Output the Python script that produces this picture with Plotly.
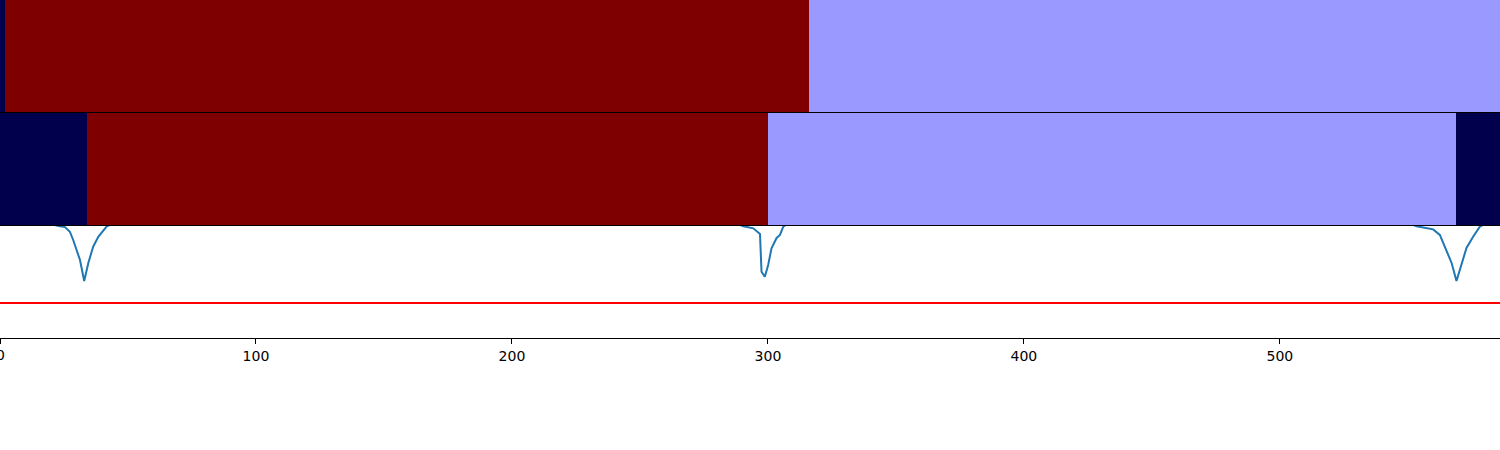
import plotly.graph_objects as go

# Segment boundaries and labels for the two label strips
top_edges = [0, 2, 316, 586]
top_labels = [0, 2, 1]
mid_edges = [0, 34, 300, 569, 586]
mid_labels = [0, 2, 1, 0]

# Signal trace (bottom panel)
sig_x = [0, 21.0, 23.4, 25.4, 27.3, 28.6, 31.25, 32.9, 34.5, 36.4, 38.4, 40.4, 41.7, 43.0,
         289.0, 290.4, 294.3, 296.9, 297.5, 298.8, 300.1, 301.4, 303.4, 304.7, 306.0, 307.0,
         552.0, 553.4, 559.9, 562.5, 565.1, 567.1, 569.0, 571.0, 572.9, 575.5, 576.8, 578.1, 579.5,
         586]
sig_y = [1.01, 1.01, 0.998, 0.99, 0.949, 0.875, 0.696, 0.509, 0.670, 0.815, 0.904, 0.964, 0.997, 1.01,
         1.01, 0.998, 0.979, 0.929, 0.592, 0.547, 0.652, 0.801, 0.893, 0.920, 0.994, 1.01,
         1.01, 0.998, 0.970, 0.920, 0.786, 0.670, 0.509, 0.670, 0.804, 0.904, 0.949, 0.994, 1.01,
         1.01]
threshold = 0.3125
x_limits = [0, 586]
tick_vals = [0, 100, 200, 300, 400, 500]

colorscale = [[0, '#00004c'], [0.5, '#9999ff'], [1, '#7f0000']]

fig = go.Figure()
fig.add_trace(go.Heatmap(x=top_edges, y=[0], z=[top_labels], colorscale=colorscale,
                         zmin=0, zmax=2, showscale=False, xaxis='x', yaxis='y',
                         hoverinfo='skip'))
fig.add_trace(go.Heatmap(x=mid_edges, y=[0], z=[mid_labels], colorscale=colorscale,
                         zmin=0, zmax=2, showscale=False, xaxis='x2', yaxis='y2',
                         hoverinfo='skip'))
fig.add_trace(go.Scatter(x=sig_x, y=sig_y, mode='lines',
                         line=dict(color='#1f77b4', width=2), xaxis='x3', yaxis='y3',
                         showlegend=False))
fig.add_trace(go.Scatter(x=x_limits, y=[threshold, threshold], mode='lines',
                         line=dict(color='#ff0000', width=2), xaxis='x3', yaxis='y3',
                         showlegend=False))

H = 338.0
ax_common = dict(showline=True, linecolor='black', linewidth=1, mirror=True,
                 showgrid=False, zeroline=False)
tick_font = dict(family='DejaVu Sans', size=14, color='black')

fig.update_layout(
    width=1500, height=450,
    margin=dict(l=0, r=0, t=0, b=112),
    paper_bgcolor='white', plot_bgcolor='white',
    showlegend=False,
    xaxis=dict(domain=[0, 1], range=x_limits, showticklabels=False, ticks='',
               anchor='y', **ax_common),
    yaxis=dict(domain=[226 / H, 1], range=[-0.5, 0.5], showticklabels=False, ticks='',
               anchor='x', **ax_common),
    xaxis2=dict(domain=[0, 1], range=x_limits, showticklabels=False, ticks='',
                anchor='y2', **ax_common),
    yaxis2=dict(domain=[113 / H, 225 / H], range=[-0.5, 0.5], showticklabels=False,
                ticks='', anchor='x2', **ax_common),
    xaxis3=dict(domain=[0, 1], range=x_limits, anchor='y3',
                tickmode='array', tickvals=tick_vals,
                ticks='outside', ticklen=5, tickwidth=1, tickcolor='black',
                tickfont=tick_font, **ax_common),
    yaxis3=dict(domain=[0, 112 / H], range=[0, 1], showticklabels=False, ticks='',
                anchor='x3', **ax_common),
)

# plotly hides the edge label "0" because it overflows the div; draw it as text
fig.add_annotation(x=tick_vals[0], xref='x3', y=0, yref='paper', yshift=-7,
                   text=str(tick_vals[0]), showarrow=False, xanchor='center',
                   yanchor='top', font=tick_font)

fig.write_html("out.html", config={'displayModeBar': False},
               post_script="document.body.style.margin='0';document.body.style.overflow='hidden';")
